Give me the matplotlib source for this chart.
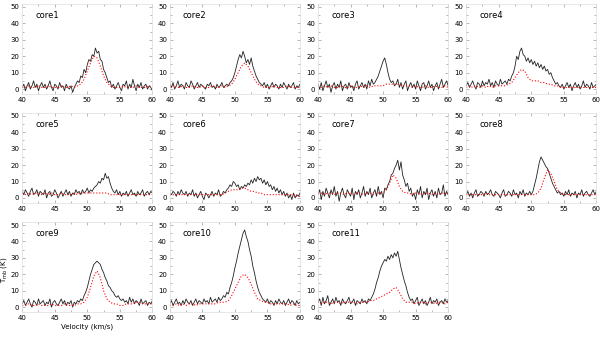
import numpy as np
import matplotlib
matplotlib.use('Agg')
import matplotlib.pyplot as plt
from matplotlib.ticker import MultipleLocator

#channel velocities (km/s)
vel_black = np.linspace(40, 60, 81)
vel_red = np.linspace(40, 60, 41)

names = ['core1', 'core2', 'core3', 'core4', 'core5', 'core6',
         'core7', 'core8', 'core9', 'core10', 'core11']

#observed spectra (black)
core1_obs = [1, 3, -1, 2, 4, 0, 2, 5, 1, 3, -1, 2, 4, 1, 3, 0, 2, 5, 1, -1, 3, 2, 0, 4, 1, 2, -1, 3, 1, 0, 2, -2,
             1, 3, 5, 4, 8, 7, 12, 10, 15, 18, 17, 21, 20, 25, 22, 23, 18, 17, 12, 10, 7, 4, 5, 1, 3,
             0, 2, 4, 1, -1, 3, 2, 5, 0, 3, 1, 6, 2, -1, 3, 1, 4, 0, 2, 3, 0, 2, 1, -1]
core2_obs = [3, 1, 4, 0, 2, 5, 1, 3, 2, 0, 4, 2, 1, 5, 3, 0, 2, 4, 1, 3, 2, 1, 0, 3, 2, 4, 1, 2, 0, 3, 1, 2, 4, 1, 2, 3, 2, 4,
             5, 7, 10, 14, 18, 21, 19, 23, 20, 16, 18, 15, 19, 14, 11, 8, 6, 4, 3,
             2, 4, 1, 3, 0, 2, 4, 1, 3, 2, 0, 3, 1, 4, 2, 0, 3, 1, 2, 4, 0, 2, 1, 3]
core3_obs = [3, 0, 4, -1, 2, 5, 1, 3, -2, 2, 4, 0, 3, 1, 5, -1, 2, 3, 0, 4, 1, 2, -1, 3, 5, 0, 2, 4, 1, 3, 0, 5, 2, 6, 3, 4,
             6, 8, 11, 14, 17, 19, 15, 10, 6, 4,
             5, 2, 3, 6, 1, 4, 0, 3, 5, -1, 2, 4, 1, 3, 0, 5, 2, -1, 3, 4, 0, 2, 5, 1, 3, -1, 2, 4, 0, 3, 6, 1, 3, 5, 2]
core4_obs = [2, 4, 1, 3, 5, 2, 0, 4, 3, 1, 5, 2, 4, 3, 6, 2, 4, 1, 5, 3, 2, 6, 3, 4, 5, 3,
             6, 5, 8, 10, 14, 20, 18, 23, 25, 21, 20, 17, 19, 16, 18, 15, 17, 14, 16, 13, 15, 12, 14, 11, 12, 9, 10, 7, 5, 3, 4, 2,
             1, 3, 0, 2, 4, 1, 3, -1, 2, 4, 1, 3, 0, 2, 5, 1, 3, 2, 0, 4, 1, 2, 3]
core5_obs = [4, 2, 5, 3, 1, 4, 6, 2, 3, 5, 1, 4, 3, 2, 5, 0, 3, 4, 1, 2, 5, 3, 0, 2, 4, 1, 3, 5, 2, 4, 1, 3, 2, 5, 3, 4, 2, 5, 3, 4, 6, 3, 5, 4,
             6, 7, 8, 10, 9, 12, 11, 15, 12, 13, 9, 6, 4,
             3, 5, 2, 4, 1, 3, 2, 4, 1, 3, 5, 2, 3, 1, 4, 2, 3, 5, 1, 3, 4, 2, 4, 3]
core6_obs = [3, 2, 4, 3, 1, 4, 2, 5, 3, 2, 4, 1, 3, 2, 5, 1, 3, 0, 2, 4, 1, -1, 3, 2, 0, 2, 4, 1, 3, 2, 5, 1, 2, 4, 3, 5,
             6, 8, 7, 10, 9, 7, 8, 5, 7, 6, 8, 7, 9, 8, 11, 9, 12, 10, 13, 11, 12, 9, 11, 8, 10, 7, 8, 5, 7, 4, 6, 3, 5, 2,
             4, 1, 3, 0, 2, -1, 3, 0, 2, 1, 3]
core7_obs = [2, 5, -1, 4, 1, 6, 3, 0, 5, 2, 7, 1, 4, -2, 3, 6, 2, 0, 5, 3, 1, 6, -1, 4, 2, 5, 0, 3, 7, 1, 4, 2, 6, 0, 3, 5, 1, 7, 2, 4, 0, 6,
             5, 8, 10, 14, 15, 18, 20, 23, 17, 22, 14, 11, 7, 9, 4,
             6, 1, 3, -1, 5, 2, 7, 0, 4, 2, 6, -1, 3, 5, 1, 4, 0, 6, 2, 3, 8, 1, 4, 2]
core8_obs = [2, 4, 1, 3, 0, 3, 5, 1, 2, 4, 3, 1, 4, 2, 3, 5, 2, 1, 4, 3, 2, 0, 3, 5, 1, 2, 4, 3, 1, 5, 2, 3, 0, 4, 2, 5, 1, 3, 2, 4, 2,
             4, 8, 12, 17, 22, 25, 23, 21, 19, 18, 15, 12, 9, 7, 5, 3,
             4, 2, 3, 1, 4, 2, 5, 1, 3, 2, 4, 0, 3, 2, 5, 1, 3, 4, 2, 1, 3, 5, 2, 4]
core9_obs = [2, 4, 1, 3, 5, 2, 0, 4, 3, 1, 5, 2, 3, 4, 1, 3, 2, 5, 0, 3, 4, 2, 1, 3, 5, 2, 4, 1, 3, 2, 4, 0, 3, 2, 4, 3,
             5, 4, 7, 9, 12, 16, 20, 23, 26, 27, 28, 27, 26, 23, 21, 18, 16, 13, 12, 10, 9, 7, 6, 7, 5, 4,
             5, 3, 4, 2, 6, 3, 5, 2, 4, 3, 1, 5, 2, 3, 4, 1, 3, 2, 4]
core10_obs = [2, 4, 1, 3, 5, 2, 3, 1, 4, 2, 5, 3, 2, 4, 1, 3, 5, 2, 4, 3, 2, 5, 3, 4, 2, 6, 3, 4, 5, 3, 6, 4, 5, 7,
              6, 9, 8, 12, 15, 19, 24, 28, 33, 37, 41, 45, 47, 43, 40, 35, 31, 25, 21, 16, 12, 9, 7, 5,
              4, 3, 5, 2, 4, 3, 1, 4, 2, 5, 3, 2, 4, 1, 3, 5, 2, 4, 3, 1, 4, 2, 3]
core11_obs = [3, 5, 1, 6, 2, 4, 7, 1, 3, 5, 2, 6, 3, 4, 1, 5, 3, 2, 4, 6, 2, 3, 5, 1, 4, 3, 2, 5, 3, 4, 2, 5, 4, 6,
              8, 11, 15, 18, 22, 25, 27, 29, 28, 31, 29, 32, 30, 33, 31, 34, 29, 24, 20, 16, 13, 9, 6, 4,
              5, 2, 4, 6, 1, 3, 5, 2, 4, 1, 3, 6, 2, 4, 3, 5, 1, 3, 4, 2, 5, 3, 4]

#model spectra (red dotted)
core1_mod = [1, 1, 2, 1, 1, 2, 1, 1, 2, 1, 1, 1, 2, 1, 1, 2, 1, 2, 3, 6,
             11, 16, 20, 19, 14, 8, 4, 2, 1, 1, 1, 2, 1, 1, 1, 2, 1, 1, 1, 2, 1]
core2_mod = [1, 2, 1, 1, 2, 1, 1, 2, 1, 1, 2, 1, 1, 2, 1, 1, 2, 1, 2, 3,
             6, 10, 14, 16, 14, 10, 6, 3, 2, 1, 1, 1, 2, 1, 1, 1, 2, 1, 1, 1, 1]
core3_mod = [2, 1, 2, 1, 2, 1, 1, 2, 1, 1, 2, 1, 1, 2, 1, 2, 1, 2, 2, 2,
             2, 3, 3, 3, 3, 3, 2, 2, 2, 1, 2, 1, 1, 2, 1, 1, 2, 1, 1, 2, 1]
core4_mod = [1, 2, 1, 2, 1, 2, 1, 2, 1, 2, 2, 2, 2, 3, 4, 7, 10, 12, 11, 7,
             5, 5, 5, 4, 4, 3, 3, 2, 2, 1, 1, 1, 1, 1, 1, 1, 1, 1, 1, 1, 1]
core5_mod = [3, 2, 3, 2, 3, 3, 2, 3, 2, 3, 2, 2, 3, 2, 2, 2, 3, 2, 3, 3,
             3, 3, 3, 3, 3, 3, 3, 2, 2, 2, 2, 2, 2, 2, 2, 2, 2, 2, 2, 2, 2]
core6_mod = [2, 2, 2, 2, 2, 2, 2, 2, 2, 2, 2, 2, 2, 2, 2, 2, 2, 3, 4, 5,
             5, 5, 6, 6, 5, 4, 4, 3, 3, 2, 2, 2, 2, 2, 2, 2, 2, 2, 2, 1, 1]
core7_mod = [3, 3, 2, 3, 3, 2, 3, 3, 2, 3, 3, 2, 3, 3, 2, 3, 3, 2, 3, 3,
             3, 5, 9, 14, 12, 7, 4, 3, 3, 2, 3, 3, 2, 3, 3, 2, 3, 2, 3, 3, 2]
core8_mod = [2, 2, 2, 2, 2, 2, 3, 2, 2, 2, 2, 2, 2, 2, 2, 2, 2, 2, 2, 2,
             2, 2, 3, 6, 12, 17, 15, 10, 5, 3, 2, 2, 2, 2, 2, 2, 2, 2, 2, 2, 2]
core9_mod = [1, 1, 2, 1, 1, 2, 1, 1, 1, 2, 1, 1, 1, 2, 1, 1, 1, 2, 2, 3,
             6, 12, 19, 22, 18, 10, 5, 3, 2, 2, 1, 1, 2, 2, 2, 3, 3, 2, 2, 2, 2]
core10_mod = [1, 1, 2, 1, 2, 1, 2, 2, 1, 2, 2, 2, 2, 2, 2, 3, 3, 3, 4, 7,
              11, 15, 19, 20, 18, 14, 9, 5, 4, 3, 3, 2, 2, 2, 2, 2, 2, 1, 2, 1, 1]
core11_mod = [3, 2, 3, 3, 2, 3, 3, 2, 3, 3, 3, 3, 2, 3, 3, 3, 4, 4, 5, 6,
              7, 8, 9, 11, 12, 9, 5, 3, 3, 3, 2, 3, 3, 2, 3, 3, 2, 3, 3, 2, 3]

obs = [core1_obs, core2_obs, core3_obs, core4_obs, core5_obs, core6_obs,
       core7_obs, core8_obs, core9_obs, core10_obs, core11_obs]
mod = [core1_mod, core2_mod, core3_mod, core4_mod, core5_mod, core6_mod,
       core7_mod, core8_mod, core9_mod, core10_mod, core11_mod]

#panel layout (figure fractions)
lefts = [0.037, 0.283, 0.530, 0.777]
bottoms = [0.721, 0.398, 0.074]
w = 0.217
h = 0.268

fig = plt.figure(figsize=(6, 3.37), dpi=100)

for k in range(len(names)):
    row = k // 4
    col = k % 4
    ax = fig.add_axes([lefts[col], bottoms[row], w, h])
    ax.plot(vel_black, obs[k], color='#222222', lw=0.6)
    ax.plot(vel_red, mod[k], color='red', lw=0.8, ls=':')
    ax.set_xlim(40, 60)
    ax.set_ylim(-3, 52)
    ax.xaxis.set_major_locator(MultipleLocator(5))
    ax.xaxis.set_minor_locator(MultipleLocator(2.5))
    ax.yaxis.set_major_locator(MultipleLocator(10))
    ax.yaxis.set_minor_locator(MultipleLocator(5))
    ax.tick_params(which='both', direction='in', top=True, right=True,
                   labelsize=5, pad=2, color='#999999', width=0.5)
    ax.tick_params(which='major', length=2.5)
    ax.tick_params(which='minor', length=1.2)
    for s in ax.spines.values():
        s.set_color('#dddddd')
        s.set_linewidth(0.5)
    ax.text(0.1, 0.84, names[k], transform=ax.transAxes, fontsize=6)
    if k == 8:
        ax.set_xlabel('Velocity (km/s)', fontsize=5, labelpad=2)

#y label for the whole figure, next to core9
fig.text(0.007, 0.2, r'T$_{\rm mb}$ (K)', fontsize=5, rotation=90,
         ha='center', va='center')

fig.savefig('out.png', dpi=100)
